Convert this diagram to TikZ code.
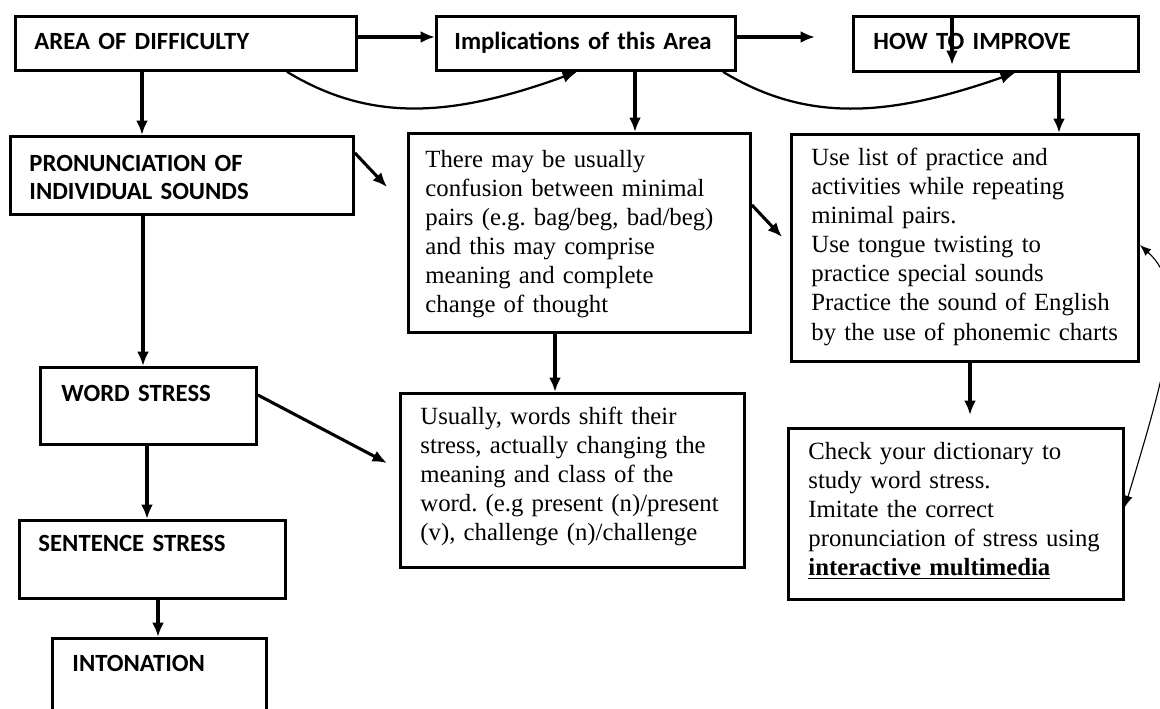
\documentclass[tikz,border=0pt]{standalone}
\usepackage{fontspec}
\setmainfont{Liberation Serif}
\newfontfamily\calibri{Carlito}
\usetikzlibrary{arrows.meta}
\frenchspacing
\begin{document}
\begin{tikzpicture}[>={Latex[length=3.6mm,width=3mm]},x=0.025cm,y=-0.025cm,
  box/.style={rectangle,draw=black,line width=2pt,anchor=north west,inner ysep=0pt,align=left},
  head/.style={font=\calibri\bfseries\fontsize{17.6}{20}\selectfont},
  body/.style={font=\fontsize{17.6}{20.7}\selectfont},
  link/.style={->,line width=2.2pt},
  curvelink/.style={->,line width=1.6pt}]
\useasboundingbox (0,0) rectangle (1160,709);

% top row
\node (area) at (14,15)[box,head,text width=75.75mm,inner xsep=4.75mm,text height=8.25mm,text depth=5.25mm]{AREA OF DIFFICULTY};
\node (impl) at (435,15)[box,head,text width=65.75mm,inner xsep=4.5mm,text height=8.25mm,text depth=5.25mm]{Implications of this Area};
\node (how) at (852,15)[box,head,text width=61.25mm,inner xsep=5mm,text height=8.25mm,text depth=5.5mm]{HOW TO IMPROVE};

% left column
\node (pron) at (9,135)[box,head,text width=76.25mm,inner xsep=4.75mm,text height=8.75mm,text depth=10.75mm]{PRONUNCIATION OF\\INDIVIDUAL SOUNDS};
\node (ws) at (39,366)[box,head,text width=43.5mm,inner xsep=5.25mm,text height=8.5mm,text depth=10.75mm]{WORD STRESS};
\node (ss) at (18,519)[box,head,text width=57mm,inner xsep=4.75mm,text height=7.75mm,text depth=11.75mm]{SENTENCE STRESS};
\node (inton) at (51,637)[box,head,text width=43.5mm,inner xsep=5mm,text height=8.25mm,text depth=20mm]{INTONATION};

% middle column
\node (mid) at (407,132)[box,body,text width=77mm,inner xsep=4.25mm,text height=8.5mm,text depth=41.25mm]{There may be usually\\
confusion between minimal\\
pairs (e.g. bag/beg, bad/beg)\\
and this may comprise\\
meaning and complete\\
change of thought};
\node (usually) at (399,392)[box,body,text width=76mm,inner xsep=5mm,text height=7.75mm,text depth=35.75mm]{Usually, words shift their\\
stress, actually changing the\\
meaning and class of the\\
word. (e.g present (n)/present\\
(v), challenge (n)/challenge};

% right column
\node (use) at (790,133)[box,body,text width=76.75mm,inner xsep=5mm,text height=7.75mm,text depth=49mm]{Use list of practice and\\
activities while repeating\\
minimal pairs.\\
Use tongue twisting to\\
practice special sounds\\
Practice the sound of English\\
by the use of phonemic charts};
\node (check) at (787,427)[box,body,text width=73.75mm,inner xsep=5mm,text height=7.75mm,text depth=35mm]{Check your dictionary to\\
study word stress.\\
Imitate the correct\\
pronunciation of stress using\\
\underline{\textbf{interactive multimedia}}};

% free ends
\coordinate (howgap) at (815,37);
\coordinate (howtip) at (952,65);
\coordinate (pronend) at (387,187);
\coordinate (midend) at (782,237);
\coordinate (wsend) at (387,463);
\coordinate (useend) at (970,415);

% arrows
\draw[link] (area.east |- 0,37) -- (impl.west |- 0,37);
\draw[link] (impl.east |- 0,37) -- (howgap);
\draw[link] (how.north -| 952,0) -- (howtip);
\draw[curvelink] (area.south -| 287,0) .. controls (370,122) and (450,118) .. (impl.south -| 577,0);
\draw[curvelink] (impl.south -| 723,0) .. controls (806,122) and (886,118) .. (how.south -| 1015,0);

\draw[link] (area.south -| 142,0) -- (pron.north -| 142,0);
\draw[link] (impl.south -| 635,0) -- (mid.north -| 635,0);
\draw[link] (how.south -| 1059,0) -- (use.north -| 1059,0);

\draw[link] (pron.east |- 0,153) -- (pronend);
\draw[link] (mid.east |- 0,205) -- (midend);
\draw[link] (pron.south -| 143,0) -- (ws.north -| 143,0);
\draw[link] (mid.south -| 555,0) -- (usually.north -| 555,0);
\draw[link] (use.south -| 970,0) -- (useend);
\draw[link] (ws.east |- 0,395) -- (wsend);
\draw[link] (ws.south -| 147,0) -- (ss.north -| 147,0);
\draw[link] (ss.south -| 158,0) -- (inton.north -| 158,0);

\draw[{Latex[length=2.8mm,width=2.2mm]}-{Latex[length=2.8mm,width=2.2mm]},line width=0.8pt] (use.east |- 0,245) .. controls (1190,290) and (1167,367) .. (check.east |- 0,507);
\end{tikzpicture}
\end{document}
